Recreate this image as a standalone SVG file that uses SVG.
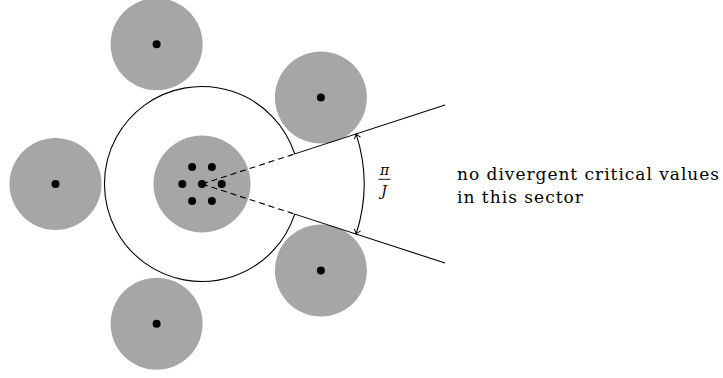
<svg xmlns="http://www.w3.org/2000/svg" width="723" height="378" viewBox="0 0 723 378">
<style>
.disk{fill:#a6a6a6;stroke:none}
.dot{fill:#000}
.ln{fill:none;stroke:#000;stroke-width:1.1}
.dash{fill:none;stroke:#000;stroke-width:1.1;stroke-dasharray:6 4}
</style>
<defs>
<marker id="ar" markerUnits="userSpaceOnUse" markerWidth="12" markerHeight="12" viewBox="-6 -6 12 12" refX="0" refY="0" orient="auto-start-reverse">
<path d="M-4.5,-3.2 Q-1.5,-0.8 0,0 Q-1.5,0.8 -4.5,3.2" fill="none" stroke="#000" stroke-width="1"/>
</marker>
</defs>
<rect width="723" height="378" fill="#fff"/>
<g id="disk-top"><circle class="disk" cx="156.6" cy="44.2" r="46"/><circle class="dot" cx="156.6" cy="44.2" r="4"/></g>
<g id="disk-upper-right"><circle class="disk" cx="320.9" cy="97.6" r="46"/><circle class="dot" cx="320.9" cy="97.6" r="4"/></g>
<g id="disk-left"><circle class="disk" cx="55.5" cy="184" r="46"/><circle class="dot" cx="55.5" cy="184" r="4"/></g>
<g id="disk-lower-right"><circle class="disk" cx="320.9" cy="270.4" r="46"/><circle class="dot" cx="320.9" cy="270.4" r="4"/></g>
<g id="disk-bottom"><circle class="disk" cx="156.6" cy="323.8" r="46"/><circle class="dot" cx="156.6" cy="323.8" r="4"/></g>
<g id="boundary"><path class="ln" d="M445,105 L294.7,153.9 A97.5,97.5 0 1 0 294.7,214.1 L445,263"/></g>
<g id="center">
<circle class="disk" cx="202" cy="184" r="48.5"/>
<circle class="dot" cx="202" cy="184" r="4"/>
<circle class="dot" cx="221.7" cy="184" r="4"/>
<circle class="dot" cx="211.85" cy="166.9" r="4"/>
<circle class="dot" cx="192.15" cy="166.9" r="4"/>
<circle class="dot" cx="182.3" cy="184" r="4"/>
<circle class="dot" cx="192.15" cy="201.1" r="4"/>
<circle class="dot" cx="211.85" cy="201.1" r="4"/>
</g>
<g id="connectors">
<path class="dash" d="M202,184 L294.7,153.9"/>
<path class="dash" d="M202,184 L294.7,214.1"/>
<path class="ln" d="M356.1,133.9 A162,162 0 0 1 356.1,234.1" marker-start="url(#ar)" marker-end="url(#ar)"/>
</g>
<g id="angle-label" font-family="'DejaVu Serif', 'Liberation Serif', serif" font-style="italic" font-size="14">
<text x="384.5" y="175" text-anchor="middle">π</text>
<line x1="378.5" y1="179.3" x2="390.5" y2="179.3" stroke="#000" stroke-width="0.9"/>
<text x="384" y="196" text-anchor="middle">J</text>
</g>
<g id="sector-label" font-family="'DejaVu Serif', 'Liberation Serif', serif" font-size="17">
<text x="457" y="180" textLength="262" lengthAdjust="spacing">no divergent critical values</text>
<text x="457" y="202.5" textLength="126" lengthAdjust="spacing">in this sector</text>
</g>
</svg>
